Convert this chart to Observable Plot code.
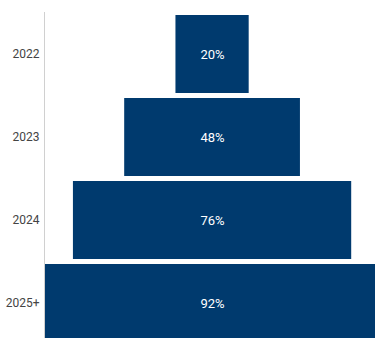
<!DOCTYPE html>
<html>
<head>
<meta charset="utf-8">
<script src="https://cdn.jsdelivr.net/npm/d3@7"></script>
<script src="https://cdn.jsdelivr.net/npm/@observablehq/plot@0.6"></script>
<style>
  html, body { margin: 0; padding: 0; background: #fff; }
  #chart { width: 375px; height: 338px; overflow: hidden; }
</style>
</head>
<body>
<div id="chart"></div>
<script>
const years = ["2022", "2023", "2024", "2025+"];
const shares = [20, 48, 76, 92];
const labels = ["20%", "48%", "76%", "92%"];

const data = years.map((y, i) => ({ year: y, value: shares[i], label: labels[i] }));
const xMin = -45.9, xMax = 44.5;

const chart = Plot.plot({
  width: 375,
  height: 347,
  marginLeft: 44,
  marginRight: 0,
  marginTop: 10,
  marginBottom: 0,
  style: { fontFamily: "Roboto, sans-serif", background: "#fff" },
  x: { domain: [xMin, xMax], axis: null },
  y: { domain: years, padding: 0.06, label: null, tickSize: 0, tickPadding: 5 },
  marks: [
    Plot.barX(data, { y: "year", x1: d => -d.value / 2, x2: d => d.value / 2, fill: "#003a6e", clip: true }),
    Plot.ruleX([xMin], { stroke: "#d0d0d0", strokeWidth: 1, insetTop: 2 }),
    Plot.text(data, { y: "year", x: 0, text: "label", fill: "#fff", fontSize: 13, fontWeight: "normal" }),
    Plot.axisY({ tickSize: 0, tickPadding: 5, fontSize: 12, color: "#444", label: null })
  ]
});
document.getElementById("chart").appendChild(chart);
</script>
</body>
</html>
